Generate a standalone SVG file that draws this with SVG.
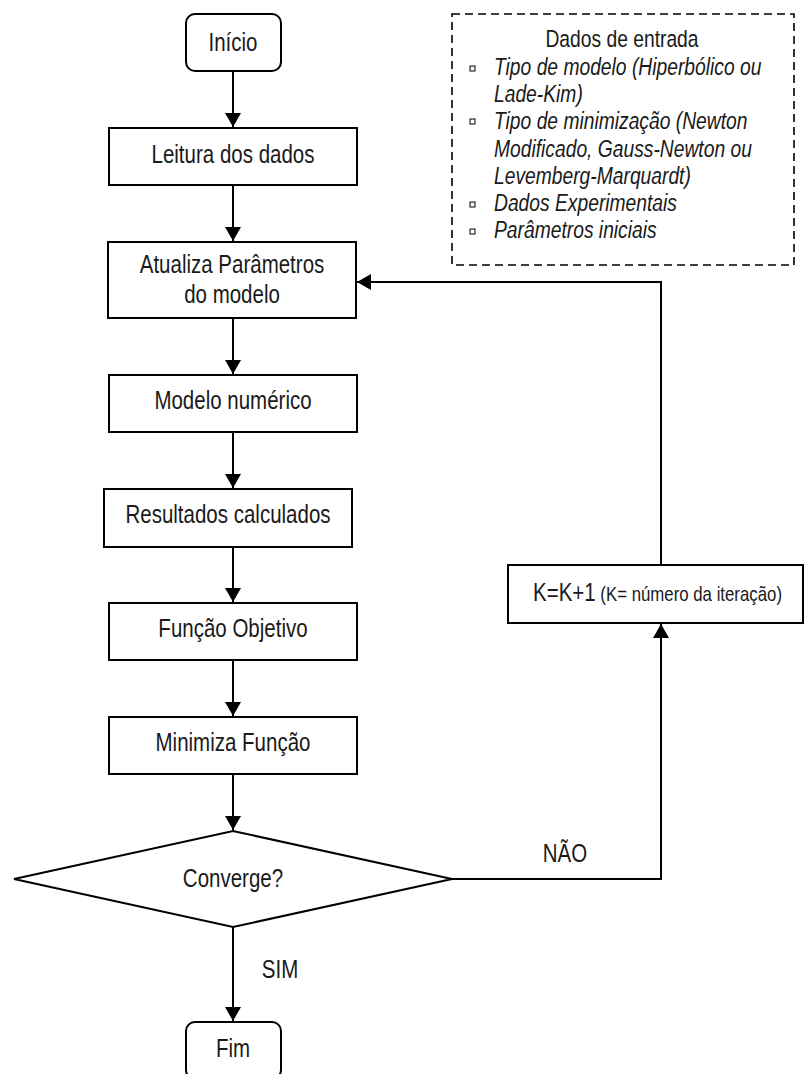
<svg xmlns="http://www.w3.org/2000/svg" width="806" height="1074" viewBox="0 0 806 1074">
  <defs>
    <marker id="arrow" markerWidth="14" markerHeight="16" refX="14" refY="8" orient="auto" markerUnits="userSpaceOnUse">
      <path d="M0,0 L14,8 L0,16 Z" fill="#000"/>
    </marker>
    <style>
      .box { fill: #fff; stroke: #000; stroke-width: 2; }
      .edge { fill: none; stroke: #000; stroke-width: 2; marker-end: url(#arrow); }
      text { font-family: "Liberation Sans", Arial, sans-serif; fill: #1a1a1a; }
      .lbl { font-size: 25px; text-anchor: middle; }
      .note { font-size: 23.5px; }
      .it { font-style: italic; }
      .bullet { fill: #fff; stroke: #000; stroke-width: 1; }
    </style>
  </defs>
  <rect width="806" height="1074" fill="#fff"/>

  <!-- connectors; labels use a condensed (0.82) horizontal scale -->
  <g id="connectors">
    <path class="edge" d="M233,71 V127"/>
    <path class="edge" d="M233,185 V241"/>
    <path class="edge" d="M233,318 V374"/>
    <path class="edge" d="M233,432 V488"/>
    <path class="edge" d="M233,547 V602"/>
    <path class="edge" d="M233,660 V716"/>
    <path class="edge" d="M233,774 V830"/>
    <path class="edge" d="M233,927 V1021"/>
    <path class="edge" d="M452,879 H661 V624"/>
    <path class="edge" d="M661,565 V282 H357"/>
    <text class="lbl" transform="matrix(.82 0 0 1 565 862)">NÃO</text>
    <text class="lbl" transform="matrix(.82 0 0 1 280 978)">SIM</text>
  </g>

  <g id="inicio">
    <rect class="box" x="186" y="14" width="95" height="57" rx="9"/>
    <text class="lbl" transform="matrix(.82 0 0 1 233 51)">Início</text>
  </g>

  <g id="leitura">
    <rect class="box" x="109" y="128" width="248" height="57"/>
    <text class="lbl" transform="matrix(.82 0 0 1 233 163)">Leitura dos dados</text>
  </g>

  <g id="atualiza">
    <rect class="box" x="108" y="242" width="248" height="76"/>
    <text class="lbl" transform="matrix(.82 0 0 1 232 273)">Atualiza Parâmetros</text>
    <text class="lbl" transform="matrix(.82 0 0 1 232 303)">do modelo</text>
  </g>

  <g id="modelo">
    <rect class="box" x="109" y="375" width="248" height="57"/>
    <text class="lbl" transform="matrix(.82 0 0 1 233 409)">Modelo numérico</text>
  </g>

  <g id="resultados">
    <rect class="box" x="104" y="489" width="248" height="58"/>
    <text class="lbl" transform="matrix(.82 0 0 1 228 523)">Resultados calculados</text>
  </g>

  <g id="funcao">
    <rect class="box" x="109" y="603" width="248" height="57"/>
    <text class="lbl" transform="matrix(.82 0 0 1 233 637)">Função Objetivo</text>
  </g>

  <g id="minimiza">
    <rect class="box" x="109" y="717" width="248" height="57"/>
    <text class="lbl" transform="matrix(.82 0 0 1 233 751)">Minimiza Função</text>
  </g>

  <g id="converge">
    <polygon class="box" points="233,831 452,879 233,927 14,879"/>
    <text class="lbl" transform="matrix(.82 0 0 1 233 887)">Converge?</text>
  </g>

  <g id="fim">
    <rect class="box" x="186" y="1022" width="95" height="57" rx="9"/>
    <text class="lbl" transform="matrix(.82 0 0 1 233 1057)">Fim</text>
  </g>

  <g id="iteracao">
    <rect class="box" x="508" y="565" width="295" height="58"/>
    <text transform="matrix(.82 0 0 1 533 601)"><tspan font-size="25px">K=K+1</tspan><tspan font-size="20.5px"> (K= número da iteração)</tspan></text>
  </g>

  <g id="dados-entrada">
    <rect x="452" y="14" width="342" height="251" fill="none" stroke="#000" stroke-width="1.6" stroke-dasharray="8,5"/>
    <text class="note" text-anchor="middle" transform="matrix(.82 0 0 1 622 47)">Dados de entrada</text>
    <rect class="bullet" x="470" y="66" width="5" height="5"/>
    <rect class="bullet" x="470" y="119" width="5" height="5"/>
    <rect class="bullet" x="470" y="202" width="5" height="5"/>
    <rect class="bullet" x="470" y="229" width="5" height="5"/>
    <text class="note it" transform="matrix(.82 0 0 1 494 75)">Tipo de modelo (Hiperbólico ou</text>
    <text class="note it" transform="matrix(.82 0 0 1 494 102)">Lade-Kim)</text>
    <text class="note it" transform="matrix(.82 0 0 1 494 129)">Tipo de minimização (Newton</text>
    <text class="note it" transform="matrix(.82 0 0 1 494 157)">Modificado, Gauss-Newton ou</text>
    <text class="note it" transform="matrix(.82 0 0 1 494 184)">Levemberg-Marquardt)</text>
    <text class="note it" transform="matrix(.82 0 0 1 494 211)">Dados Experimentais</text>
    <text class="note it" transform="matrix(.82 0 0 1 494 238)">Parâmetros iniciais</text>
  </g>
</svg>
